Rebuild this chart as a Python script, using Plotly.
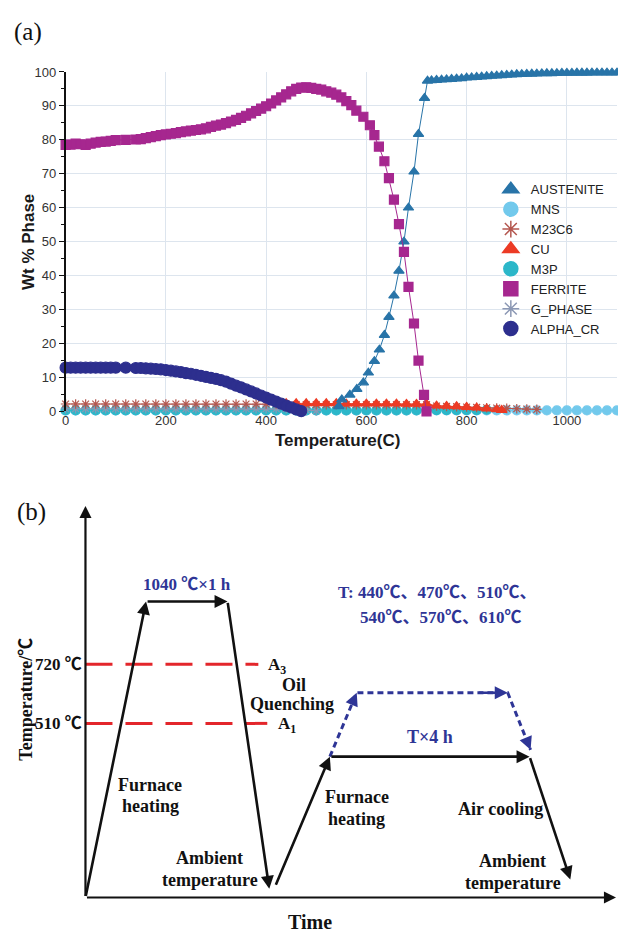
import numpy as np
import plotly.graph_objects as go

W, H = 618, 941
SANS = "Liberation Sans, Arial, sans-serif"
SERIF = "Liberation Serif, Times New Roman, Noto Sans CJK SC, serif"
BLUE = "#2e3596"

# ------------------------------------------------------------------
# (a) Equilibrium phase fractions (wt %) versus temperature (°C)
# ------------------------------------------------------------------
ferrite_T = [0, 10, 20, 30, 40, 50, 60, 70, 80, 90, 100, 120, 140,
             150, 160, 170, 180, 190, 200, 210, 220, 230, 240, 250, 260, 270, 280, 290,
             300, 310, 320, 330, 340, 350, 360, 370, 380, 390, 400, 410, 420, 430, 440,
             450, 460, 470, 480, 490, 500, 510, 520, 530, 540, 550, 560, 570, 580,
             594, 607, 616, 625, 636, 645, 655, 665, 675, 684, 695, 704, 715, 720]
ferrite_wt = [78.5, 78.6, 78.9, 78.7, 78.5, 78.9, 79.2, 79.4, 79.5, 79.7, 79.9, 80.0, 80.1,
              80.2, 80.5, 80.8, 81.1, 81.4, 81.6, 81.8, 82.0, 82.3, 82.5, 82.7, 82.9, 83.1, 83.4, 83.8,
              84.2, 84.5, 84.9, 85.4, 85.9, 86.5, 87.1, 87.8, 88.5, 89.2, 89.9, 90.7, 91.6, 92.5, 93.4,
              94.3, 95.0, 95.4, 95.5, 95.3, 95.0, 94.8, 94.3, 93.9, 93.3, 92.5, 91.4, 90.2, 88.6,
              86.8, 84.3, 81.4, 78.0, 73.7, 68.7, 62.4, 55.2, 47.0, 36.7, 25.9, 15.0, 4.9, 0.0]

alpha_cr_T = [0, 10, 20, 30, 40, 50, 60, 70, 80, 90, 100, 120, 140,
              150, 160, 170, 180, 190, 200, 210, 220, 230, 240, 250, 260, 270, 280, 290,
              300, 310, 320, 330, 340, 350, 360, 370, 380, 390, 400, 410, 420, 430, 440,
              450, 460, 470]
alpha_cr_wt = [12.9, 12.9, 12.9, 12.9, 12.9, 12.9, 12.9, 12.9, 12.9, 12.9, 12.9, 12.9, 12.8,
               12.8, 12.7, 12.6, 12.5, 12.4, 12.2, 12.0, 11.8, 11.6, 11.3, 11.1, 10.8, 10.5, 10.2, 9.9,
               9.6, 9.2, 8.8, 8.2, 7.6, 7.1, 6.5, 5.9, 5.3, 4.7, 4.1, 3.5, 2.9, 2.3, 1.7,
               1.2, 0.6, 0.1]

austenite_T = [545, 551, 567, 581, 594, 604, 616, 626, 636, 645, 655, 665, 675, 684, 695, 704, 716, 722,
               730, 740, 750, 760, 770, 780, 790, 800, 810, 820, 830, 840, 850, 860, 870, 880, 890,
               900, 910, 920, 930, 940, 950, 960, 970, 980, 990, 1000, 1010, 1020, 1030, 1040,
               1050, 1060, 1070, 1080, 1090, 1100]
austenite_wt = [1.5, 3.5, 4.9, 6.6, 8.5, 11.4, 14.8, 18.2, 22.5, 27.8, 34.1, 41.4, 50.0, 60.0, 70.6, 81.7, 92.3, 97.4,
                97.5, 97.6, 97.7, 97.8, 97.9, 98.0, 98.1, 98.3, 98.4, 98.5, 98.6, 98.7, 98.8, 98.9, 99.0, 99.1, 99.2,
                99.3, 99.35, 99.4, 99.45, 99.5, 99.55, 99.6, 99.6, 99.65, 99.7, 99.7, 99.7, 99.75, 99.75, 99.75,
                99.8, 99.8, 99.8, 99.8, 99.8, 99.8]

minor_T = [0, 20, 40, 60, 80, 100, 120, 140, 160, 180, 200, 220, 240, 260, 280, 300, 320, 340, 360, 380,
           400, 420, 440, 460, 480, 500, 520, 540, 560, 580, 600, 620, 640, 660, 680, 700, 720, 740, 760, 780,
           800, 820, 840, 860, 880, 900, 920, 940, 960, 980, 1000, 1020, 1040, 1060, 1080, 1100]
mns_wt = [0.3, 0.3, 0.3, 0.3, 0.3, 0.3, 0.3, 0.3, 0.3, 0.3, 0.3, 0.3, 0.3, 0.3, 0.3, 0.3, 0.3, 0.3, 0.3, 0.3,
          0.3, 0.3, 0.3, 0.3, 0.3, 0.3, 0.3, 0.3, 0.3, 0.3, 0.3, 0.3, 0.3, 0.3, 0.3, 0.3, 0.3, 0.3, 0.3, 0.3,
          0.3, 0.3, 0.3, 0.3, 0.3, 0.3, 0.3, 0.3, 0.3, 0.3, 0.3, 0.3, 0.3, 0.3, 0.3, 0.3]
m3p_T = [0, 20, 40, 60, 80, 100, 120, 140, 160, 180, 200, 220, 240, 260, 280, 300, 320, 340, 360, 380,
         400, 420, 440, 460, 480, 500, 520, 540, 560, 580, 600, 620, 640, 660, 680, 700, 720, 740, 760, 780,
         800, 820, 840]
m3p_wt = [0.3, 0.3, 0.3, 0.3, 0.3, 0.3, 0.3, 0.3, 0.3, 0.3, 0.3, 0.3, 0.3, 0.3, 0.3, 0.3, 0.3, 0.3, 0.3, 0.3,
          0.3, 0.3, 0.3, 0.3, 0.3, 0.3, 0.3, 0.3, 0.3, 0.3, 0.3, 0.3, 0.3, 0.3, 0.3, 0.3, 0.3, 0.4, 0.4, 0.4,
          0.4, 0.4, 0.5]
m23c6_T = [0, 20, 40, 60, 80, 100, 120, 140, 160, 180, 200, 220, 240, 260, 280, 300, 320, 340, 360, 380,
           400, 420, 440, 460, 480, 500, 520, 540, 560, 580, 600, 620, 640, 660, 680, 700, 720, 740, 760, 780,
           800, 820, 840, 860, 880, 900, 920, 940]
m23c6_wt = [2.2, 2.2, 2.2, 2.2, 2.2, 2.2, 2.2, 2.2, 2.2, 2.2, 2.2, 2.2, 2.2, 2.2, 2.2, 2.2, 2.2, 2.2, 2.2, 2.2,
            2.2, 2.2, 2.2, 2.0, 2.0, 2.0, 2.0, 2.0, 2.0, 2.0, 2.0, 2.0, 2.0, 2.0, 2.0, 2.0, 2.0, 1.6, 1.5, 1.4,
            1.3, 1.2, 1.1, 1.0, 0.9, 0.8, 0.7, 0.6]
cu_T = [440, 460, 480, 500, 520, 540, 560, 580, 600, 620, 640, 660, 680, 700, 720, 740, 760, 780,
        800, 820, 840, 860, 870]
cu_wt = [2.4, 2.4, 2.4, 2.4, 2.4, 2.4, 2.3, 2.3, 2.3, 2.3, 2.3, 2.3, 2.2, 2.2, 2.2, 1.7, 1.6, 1.5,
         1.3, 1.1, 0.8, 0.6, 0.4]
g_phase_T = [0, 20, 40, 60, 80, 100, 120, 140, 160, 180, 200, 220, 240, 260, 280, 300, 320, 340, 360, 380,
             400, 420, 440, 460, 480, 500]
g_phase_wt = [0.8, 0.8, 0.8, 0.8, 0.8, 0.8, 0.8, 0.8, 0.8, 0.8, 0.8, 0.8, 0.8, 0.8, 0.8, 0.8, 0.8, 0.8, 0.8, 0.8,
              0.8, 0.8, 0.8, 0.6, 0.4, 0.2]

x_ticks = [0, 200, 400, 600, 800, 1000]
y_ticks = [0, 10, 20, 30, 40, 50, 60, 70, 80, 90, 100]

# name, T, wt, colour, symbol, marker size
phase_series = [
    ("MNS", minor_T, mns_wt, "#72c9ec", "circle", 9),
    ("M3P", m3p_T, m3p_wt, "#2cb7c9", "circle", 9),
    ("G_PHASE", g_phase_T, g_phase_wt, "#8c98b4", "asterisk-open", 8),
    ("M23C6", m23c6_T, m23c6_wt, "#b4574f", "asterisk-open", 8),
    ("CU", cu_T, cu_wt, "#ec3b25", "triangle-up", 9),
    ("AUSTENITE", austenite_T, austenite_wt, "#2874a8", "triangle-up", 9),
    ("FERRITE", ferrite_T, ferrite_wt, "#a6278f", "square", 9),
    ("ALPHA_CR", alpha_cr_T, alpha_cr_wt, "#2d2f8e", "circle", 11),
]
legend_order = ["AUSTENITE", "MNS", "M23C6", "CU", "M3P", "FERRITE", "G_PHASE", "ALPHA_CR"]
legend_symbol = {"AUSTENITE": "triangle-up", "MNS": "circle", "M23C6": "asterisk-open", "CU": "triangle-up",
                 "M3P": "circle", "FERRITE": "square", "G_PHASE": "asterisk-open", "ALPHA_CR": "circle"}

fig = go.Figure()
colours = {}
for name, T, wt, col, sym, size in phase_series:
    colours[name] = col
    fig.add_trace(go.Scatter(
        x=T, y=wt, mode="lines+markers", name=name, showlegend=False, cliponaxis=False,
        line=dict(color=col, width=1),
        marker=dict(symbol=sym, size=size, color=col, line=dict(color=col, width=1.2)),
        xaxis="x", yaxis="y", hoverinfo="skip"))

for rank, name in enumerate(legend_order):
    fig.add_trace(go.Scatter(
        x=[None], y=[None], mode="markers", name=name, legendgroup=name, legendrank=rank,
        marker=dict(symbol=legend_symbol[name], size=14, color=colours[name],
                    line=dict(color=colours[name], width=1.5)),
        xaxis="x", yaxis="y"))

# ------------------------------------------------------------------
# (b) Heat-treatment route (schematic; time in arbitrary units, temperature in °C)
# ------------------------------------------------------------------
AXIS_BASE_T = 184.4          # temperature at the time axis
solution_t = [0.0, 6.1, 14.3, 18.5]
solution_T = [AXIS_BASE_T, 1040, 1040, 194]
temper_t = [19.1, 24.6, 44.7, 48.8]
temper_T = [197, 420, 420, 205]
temper_var_t = [24.6, 27.3, 42.5, 44.8]
temper_var_T = [420, 610, 610, 437]
crit_T = [720, 510]              # A3, A1
crit_end_t = [17.4, 18.3]
time_axis_end = 53.4
temp_axis_top = 1817

for Tc, t_end in zip(crit_T, crit_end_t):
    fig.add_trace(go.Scatter(x=[0, t_end], y=[Tc, Tc], mode="lines", showlegend=False,
                             line=dict(color="#e3262b", width=3, dash="27px,13px"),
                             xaxis="x2", yaxis="y2", hoverinfo="skip"))

fig.add_trace(go.Scatter(x=temper_var_t, y=temper_var_T, mode="lines", showlegend=False,
                         line=dict(color=BLUE, width=3, dash="6px,4px"),
                         xaxis="x2", yaxis="y2", hoverinfo="skip"))

L = np.log10
annotations = []


def arrow(t0, T0, t1, T1, color="#111111", width=2.6, head=2, size=1.0):
    annotations.append(dict(
        x=t1, y=L(T1), ax=t0, ay=L(T0), xref="x2", yref="y2", axref="x2", ayref="y2",
        text="", showarrow=True, arrowhead=head, arrowsize=size, arrowwidth=width,
        arrowcolor=color, standoff=0))


# axes of the schematic
arrow(0, AXIS_BASE_T, 0, temp_axis_top, width=2.2, size=1.1)
arrow(0, AXIS_BASE_T, time_axis_end, AXIS_BASE_T, width=2.2, size=1.1)

for route_t, route_T in ((solution_t, solution_T), (temper_t, temper_T)):
    for i in range(len(route_t) - 1):
        arrow(route_t[i], route_T[i], route_t[i + 1], route_T[i + 1])

# heads of the dotted tempering-variation path
for i in range(len(temper_var_t) - 1):
    t0, t1 = temper_var_t[i], temper_var_t[i + 1]
    l0, l1 = L(temper_var_T[i]), L(temper_var_T[i + 1])
    f = 0.8
    annotations.append(dict(
        x=t1, y=l1, ax=t0 + f * (t1 - t0), ay=l0 + f * (l1 - l0),
        xref="x2", yref="y2", axref="x2", ayref="y2", text="", showarrow=True,
        arrowhead=2, arrowsize=1.0, arrowwidth=2.6, arrowcolor=BLUE, standoff=0))


def label(text, xpx, ypx, size=18, color="#111111", family=SERIF, bold=True, xanchor="center", angle=0):
    if bold:
        text = "<b>" + text + "</b>"
    annotations.append(dict(
        text=text, x=xpx / W, y=1 - ypx / H, xref="paper", yref="paper", showarrow=False,
        xanchor=xanchor, yanchor="middle", textangle=angle,
        font=dict(family=family, size=size, color=color)))


# panel (a) titles
label("(a)", 24, 25, size=25, bold=False)
label("Wt % Phase", 24, 239, size=17, family=SANS, color="#1a1a1a", angle=-90)
label("Temperature(C)", 336, 441, size=17, family=SANS, color="#1a1a1a")

# panel (b) texts
label("(b)", 28, 513, size=25, bold=False)
label("Temperature/℃", 22, 703, size=18, angle=-90)
label("Time", 308, 930, size=20)
label("720 ℃", 81, 668, size=17, xanchor="right")
label("510 ℃", 81, 728, size=17, xanchor="right")
label("A<sub>3</sub>", 264, 670, size=17, xanchor="left")
label("A<sub>1</sub>", 274, 730, size=17, xanchor="left")
label("1040 ℃×1 h", 184, 587, size=17, color=BLUE)
label("Oil", 292, 689, size=18)
label("Quenching", 290, 708, size=18)
label("Furnace", 147, 791, size=18)
label("heating", 147, 812, size=18)
label("Ambient", 207, 865, size=18)
label("temperature", 207, 887, size=18)
label("T: 440℃、470℃、510℃、", 436, 595, size=17, color=BLUE)
label("540℃、570℃、610℃", 440, 620, size=17, color=BLUE)
label("T×4 h", 429, 742, size=18, color=BLUE)
label("Furnace", 355, 803, size=18)
label("heating", 355, 825, size=18)
label("Air cooling", 500, 815, size=18)
label("Ambient", 512, 868, size=18)
label("temperature", 512, 890, size=18)

# ------------------------------------------------------------------
# layout
# ------------------------------------------------------------------
y_lo = L(510) - (905 - 728) / 400.5
y_hi = L(510) + (728 - 471) / 400.5

fig.update_layout(
    width=W, height=H, margin=dict(l=0, r=0, t=0, b=0),
    paper_bgcolor="white", plot_bgcolor="white",
    showlegend=True,
    legend=dict(x=490 / W, y=1 - 170 / H, xanchor="left", yanchor="top",
                bgcolor="rgba(0,0,0,0)", tracegroupgap=0, itemsizing="trace",
                font=dict(family=SANS, size=13, color="#222222")),
    xaxis=dict(domain=[62 / W, 617 / W], range=[0, 1100], anchor="y",
               tickvals=x_ticks, ticks="", showgrid=True, gridcolor="#dde5ee", gridwidth=1,
               zeroline=False, showline=False,
               tickfont=dict(family=SANS, size=13, color="#333333")),
    yaxis=dict(domain=[1 - 411 / H, 1 - 66 / H], range=[0, 100], anchor="x",
               tickvals=y_ticks, ticks="outside", ticklen=5, tickwidth=1, tickcolor="#111111",
               minor=dict(dtick=5, ticks="outside", ticklen=3, tickcolor="#111111", showgrid=False),
               showgrid=True, gridcolor="#dde5ee", gridwidth=1,
               zeroline=False, showline=True, linecolor="#111111", linewidth=1.5,
               tickfont=dict(family=SANS, size=13, color="#333333")),
    xaxis2=dict(domain=[0, 1], range=[-8.2, 53.6], anchor="y2", visible=False),
    yaxis2=dict(domain=[1 - 905 / H, 1 - 471 / H], type="log", range=[y_lo, y_hi],
                anchor="x2", visible=False),
    annotations=annotations,
)

fig.write_html("out.html")
